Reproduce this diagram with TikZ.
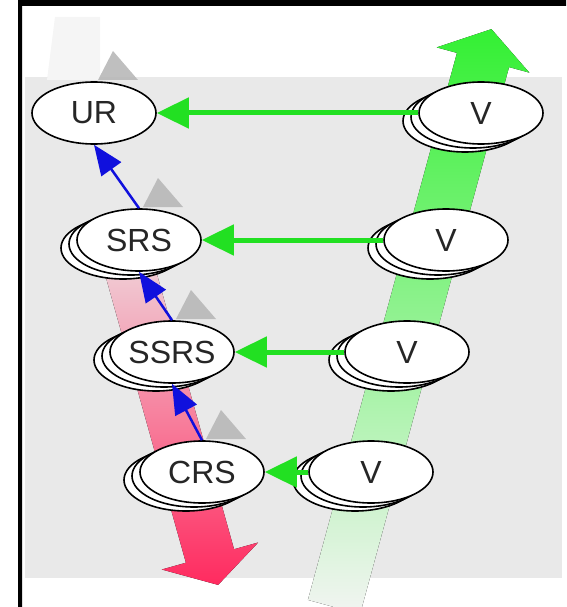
\documentclass[tikz,border=0pt]{standalone}
\usepackage{fontspec}
\setmainfont{Liberation Sans}
\usepackage{tikz}
\usetikzlibrary{calc,arrows.meta,shapes.geometric,shadows}
\definecolor{panelc}{HTML}{E9E9E9}
\definecolor{linkg}{HTML}{22E022}
\definecolor{linkb}{HTML}{1010DD}
\definecolor{ghostc}{HTML}{B8B8B8}
\definecolor{pinkl}{HTML}{EEE0E3}
\definecolor{pinkm}{HTML}{F2909C}
\definecolor{pinkd}{HTML}{FF2A5F}
\definecolor{greenl}{HTML}{F2F4F2}
\definecolor{greenm}{HTML}{9CEE9C}
\definecolor{greend}{HTML}{33F033}
\newcommand\labfont{\fontsize{32}{36}\selectfont}
\tikzset{
  state/.style={ellipse,draw=black,line width=1.6pt,fill=white,minimum width=124pt,
    minimum height=62pt,inner sep=0pt,text=black!85,font=\labfont},
  stacked/.style={state,
    copy shadow={shadow xshift=-16pt,shadow yshift=-8pt,draw=black,fill=white,line width=1.6pt},
    copy shadow={shadow xshift=-8pt,shadow yshift=-4pt,draw=black,fill=white,line width=1.6pt}},
  garrow/.style={-{Triangle[length=32pt,width=30pt]},line width=5pt,linkg},
  barrow/.style={-{Triangle[length=30pt,width=24pt]},line width=2.5pt,linkb}
}

\begin{document}
\begin{tikzpicture}[x=1pt,y=-1pt]
\useasboundingbox (0,0) rectangle (566,607);
\fill[black] (18,0) rectangle (566,6) (18,0) rectangle (22,607);
\fill[panelc] (25,77) rectangle (562,578);
\fill[black!4] (47,80)--(55,17)--(100,17)--(100,80)--cycle;
% big arrows
\coordinate (pa) at (120,235);
\coordinate (pb) at (210,556);
\fill[top color=pinkl,middle color=pinkm,bottom color=pinkd]
  ($(pa)!25pt!90:(pb)$)--($(pb)!25pt!-90:(pa)$)--($(pb)!50pt!-90:(pa)$)--($(pb)!-30pt!(pa)$)
  --($(pb)!50pt!90:(pa)$)--($(pb)!25pt!90:(pa)$)--($(pa)!25pt!-90:(pb)$)--cycle;
\coordinate (ga) at (334,607);
\coordinate (gb) at (483,60);
\fill[top color=greend,middle color=greenm,bottom color=greenl]
  ($(ga)!27pt!90:(gb)$)--($(gb)!27pt!-90:(ga)$)--($(gb)!48pt!-90:(ga)$)--($(gb)!-32pt!(ga)$)
  --($(gb)!48pt!90:(ga)$)--($(gb)!27pt!90:(ga)$)--($(ga)!27pt!-90:(gb)$)--cycle;
\foreach \x/\y in {94/113,139/240,172/352,202/472}
  \fill[ghostc,opacity=.9] ($(\x,\y)+(4,-33)$)--($(\x,\y)+(19,-62)$)--($(\x,\y)+(44,-33)$)--cycle;
% states
\node[state] (ur) at (94,113) {UR};
\node[stacked] (srs) at (139,240) {SRS};
\node[stacked] (ssrs) at (172,352) {SSRS};
\node[stacked] (crs) at (202,472) {CRS};
\node[stacked] (v1) at (481,113) {V};
\node[stacked] (v2) at (446,240) {V};
\node[stacked] (v3) at (407,352) {V};
\node[stacked] (v4) at (371,472) {V};
\draw[garrow] (v1)--(ur);
\draw[garrow] (v2)--(srs);
\draw[garrow] (v3)--(ssrs);
\draw[garrow] (v4)--(crs);
\draw[barrow] (srs.north)--(ur.south);
\draw[barrow] (ssrs.north)--(srs.south);
\draw[barrow] (crs.north)--(ssrs.south);
\end{tikzpicture}
\end{document}
